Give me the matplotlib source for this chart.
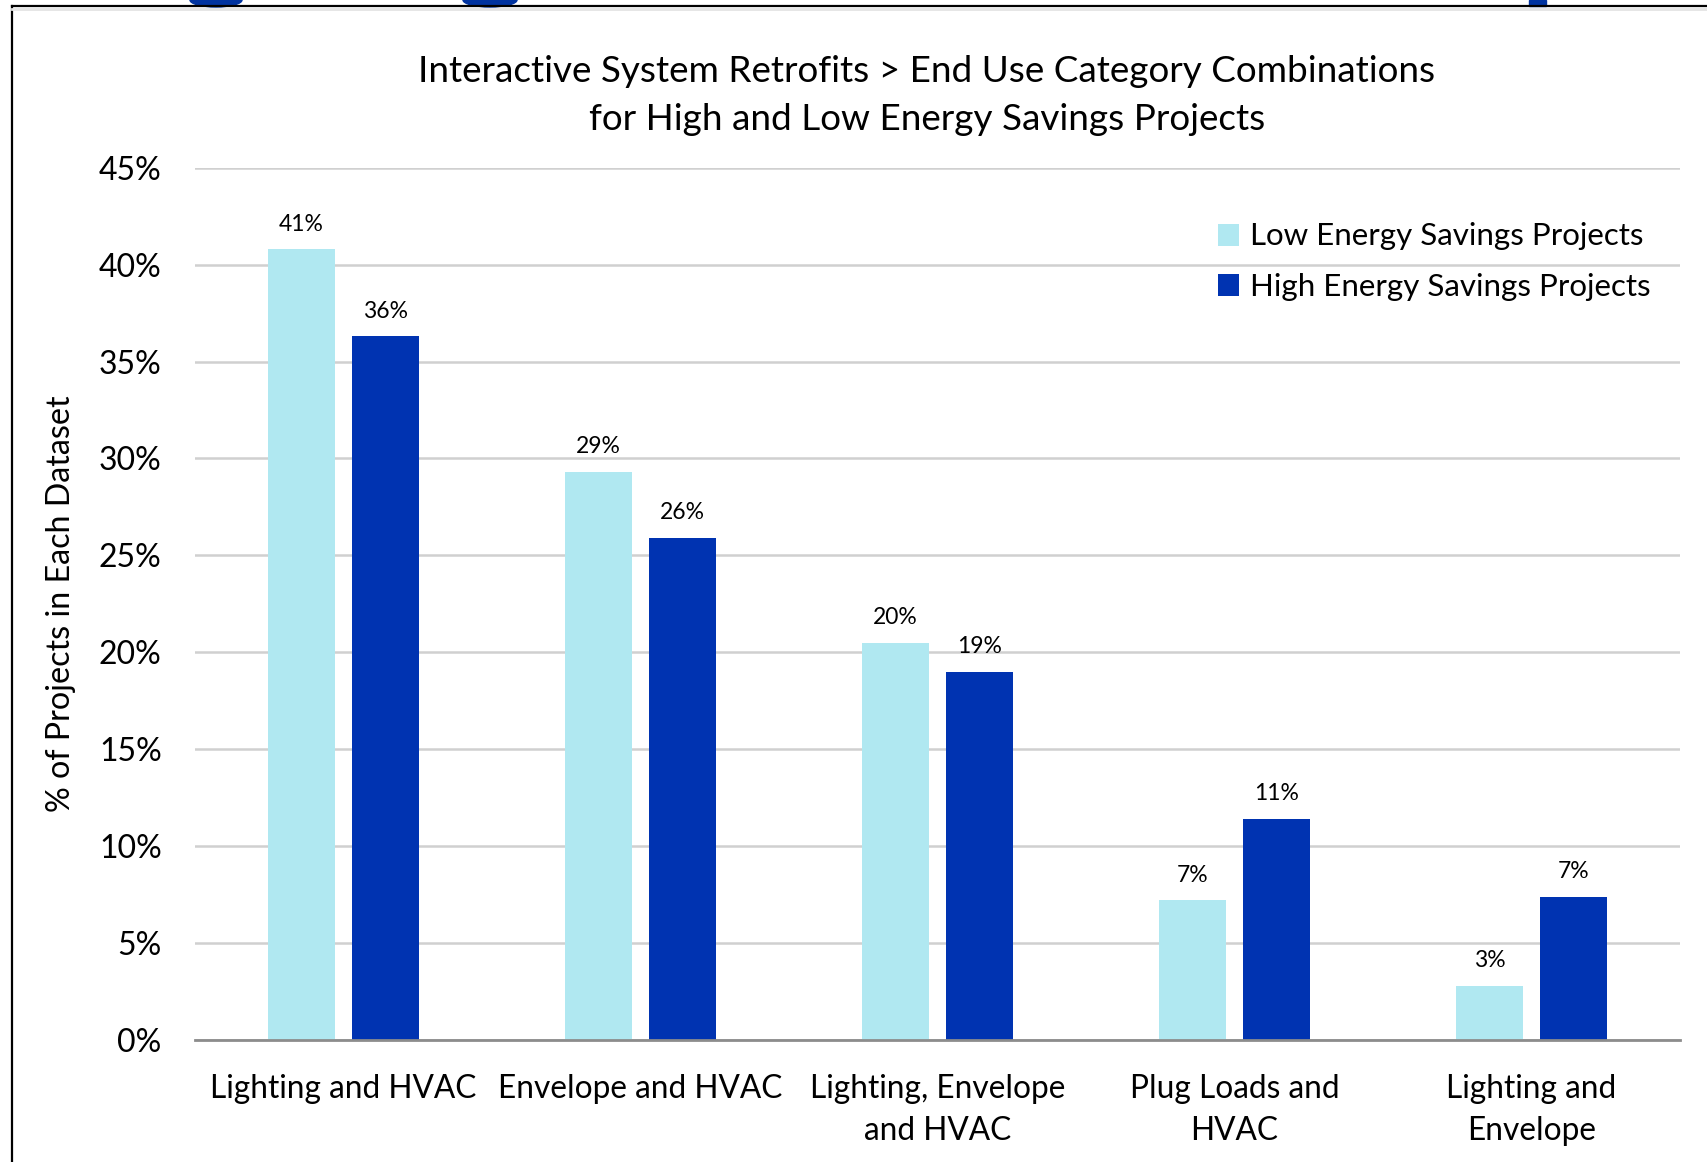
import numpy as np
import matplotlib.pyplot as plt
from matplotlib.patches import Ellipse, Rectangle
from matplotlib.lines import Line2D

plt.rcParams['font.family'] = ['Lato', 'DejaVu Sans']

categories = ['Lighting and HVAC', 'Envelope and HVAC', 'Lighting, Envelope\nand HVAC',
              'Plug Loads and\nHVAC', 'Lighting and\nEnvelope']
low_savings = [40.8, 29.3, 20.5, 7.2, 2.8]
high_savings = [36.3, 25.9, 19.0, 11.4, 7.4]
series_names = ['Low Energy Savings Projects', 'High Energy Savings Projects']
yticks = [0, 5, 10, 15, 20, 25, 30, 35, 40, 45]

c_low = '#B0E8F1'
c_high = '#0033B1'

W, H = 1707, 1162
fig = plt.figure(figsize=(W / 100, H / 100), dpi=100)
ax = fig.add_axes([195 / W, 1 - 1040 / H, (1680 - 195) / W, (1040 - 167.7) / H])

x = np.arange(len(categories))
bw = 0.225
off = 0.141
b1 = ax.bar(x - off, low_savings, bw, color=c_low, label=series_names[0], zorder=3)
b2 = ax.bar(x + off, high_savings, bw, color=c_high, label=series_names[1], zorder=3)

for bars, vals in [(b1, low_savings), (b2, high_savings)]:
    for b, v in zip(bars, vals):
        ax.text(b.get_x() + b.get_width() / 2, v + 0.75, f'{round(v):d}%',
                ha='center', va='bottom', fontsize=16.5, color='black')

ax.set_xlim(-0.5, len(categories) - 0.5)
ax.set_ylim(0, 45)
ax.set_yticks(yticks)
ax.set_yticklabels([f'{t}%' for t in yticks], fontsize=23)
ax.set_xticks(x)
ax.set_xticklabels(categories, fontsize=22.8, linespacing=1.5)
ax.tick_params(axis='both', length=0)
ax.tick_params(axis='y', pad=24)
ax.tick_params(axis='x', pad=24.5)
ax.yaxis.grid(True, color='#D0D0D0', linewidth=1.8, zorder=0)
for s in ['top', 'right', 'left']:
    ax.spines[s].set_visible(False)
ax.spines['bottom'].set_color('#8C8C8C')
ax.spines['bottom'].set_linewidth(2)
ax.spines['bottom'].set_zorder(4)

ax.set_ylabel('% of Projects in Each Dataset', fontsize=23.2)
ax.yaxis.set_label_coords(-0.080, 0.5)

leg = ax.legend(loc='upper left', bbox_to_anchor=(1205 / W, 1 - 210 / H),
                bbox_transform=fig.transFigure, frameon=False, fontsize=22.5,
                handlelength=0.7, handleheight=0.7, handletextpad=0.35,
                labelspacing=0.72, borderaxespad=0)

fig.text(927 / W, 1 - 71 / H, 'Interactive System Retrofits > End Use Category Combinations',
         ha='center', va='center', fontsize=26.6)
fig.text(927 / W, 1 - 119 / H, 'for High and Low Energy Savings Projects',
         ha='center', va='center', fontsize=26.6)

# slide frame and the shapes peeking over it
tr = fig.transFigure
fig.add_artist(Line2D([12 / W, 1], [1 - 6 / H, 1 - 6 / H], transform=tr, color='black', lw=1.6))
fig.add_artist(Line2D([12 / W, 12 / W], [0, 1 - 6 / H], transform=tr, color='black', lw=1.6))
fig.add_artist(Line2D([12 / W, 1], [1 - 9 / H, 1 - 9 / H], transform=tr, color='#E4E4E4', lw=2))
for cx, w in [(216, 52), (490, 54)]:
    fig.add_artist(Ellipse((cx / W, 1), w / W, 14 / H, transform=tr, color='#0033A0', zorder=0))
fig.add_artist(Rectangle((1529 / W, 1 - 6 / H), 17 / W, 6 / H, transform=tr, color='#0033A0', zorder=0))

fig.savefig('out.png', dpi=100)
